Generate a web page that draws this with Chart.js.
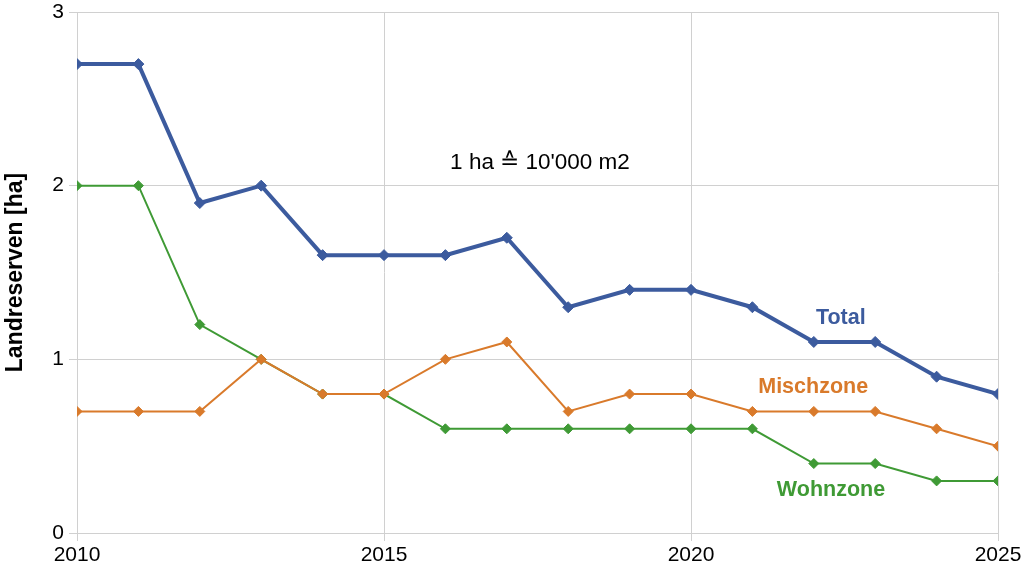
<!DOCTYPE html>
<html>
<head>
<meta charset="utf-8">
<script src="https://cdn.jsdelivr.net/npm/chart.js@4/dist/chart.umd.min.js"></script>
<style>
  html, body { margin: 0; padding: 0; background: #fff; }
  #wrap { width: 1024px; height: 569px; }
</style>
</head>
<body>
<div id="wrap"><canvas id="lineChart"></canvas></div>
<script>
// data
var years = [2010, 2011, 2012, 2013, 2014, 2015, 2016, 2017, 2018, 2019, 2020, 2021, 2022, 2023, 2024, 2025];
var total = [2.7, 2.7, 1.9, 2.0, 1.6, 1.6, 1.6, 1.7, 1.3, 1.4, 1.4, 1.3, 1.1, 1.1, 0.9, 0.8];
var mischzone = [0.7, 0.7, 0.7, 1.0, 0.8, 0.8, 1.0, 1.1, 0.7, 0.8, 0.8, 0.7, 0.7, 0.7, 0.6, 0.5];
var wohnzone = [2.0, 2.0, 1.2, 1.0, 0.8, 0.8, 0.6, 0.6, 0.6, 0.6, 0.6, 0.6, 0.4, 0.4, 0.3, 0.3];

function points(vals) {
  return years.map(function (y, i) { return { x: y, y: vals[i] }; });
}

var blue = '#3c5b9e', orange = '#d97a2b', green = '#3f9a35';
var font = 'Liberation Sans, Arial, sans-serif';

// text labels placed in data coordinates
var labelPlugin = {
  id: 'labels',
  afterDatasetsDraw: function (chart) {
    var c = chart.ctx, xs = chart.scales.x, ys = chart.scales.y;
    var items = [
      { text: 'Total', x: 2022.44, y: 1.24, color: blue, bold: true, size: 21.5 },
      { text: 'Mischzone', x: 2021.99, y: 0.84, color: orange, bold: true, size: 21.5 },
      { text: 'Wohnzone', x: 2022.28, y: 0.25, color: green, bold: true, size: 21.5 },
      { text: '1 ha \u2259 10\'000 m2', x: 2017.54, y: 2.13, color: '#000', bold: false, size: 22.5 }
    ];
    c.save();
    c.textAlign = 'center';
    c.textBaseline = 'middle';
    items.forEach(function (it) {
      c.font = (it.bold ? 'bold ' : '') + it.size + 'px ' + font;
      c.fillStyle = it.color;
      c.fillText(it.text, xs.getPixelForValue(it.x), ys.getPixelForValue(it.y));
    });
    c.restore();
  }
};

var ctx = document.getElementById('lineChart').getContext('2d');
var lineChart = new Chart(ctx, {
  type: 'line',
  data: {
    datasets: [{
      label: 'Total',
      data: points(total),
      borderColor: blue,
      backgroundColor: blue,
      borderWidth: 4,
      pointStyle: 'rectRot',
      pointRadius: 5.5,
      pointBorderWidth: 1
    }, {
      label: 'Mischzone',
      data: points(mischzone),
      borderColor: orange,
      backgroundColor: orange,
      borderWidth: 2,
      pointStyle: 'rectRot',
      pointRadius: 5,
      pointBorderWidth: 1
    }, {
      label: 'Wohnzone',
      data: points(wohnzone),
      borderColor: green,
      backgroundColor: green,
      borderWidth: 2,
      pointStyle: 'rectRot',
      pointRadius: 5,
      pointBorderWidth: 1
    }]
  },
  options: {
    responsive: true,
    maintainAspectRatio: false,
    animation: false,
    layout: { padding: { top: 12, right: 26, left: 0, bottom: 0 } },
    plugins: {
      legend: { display: false },
      tooltip: { enabled: false }
    },
    elements: { line: { tension: 0 } },
    scales: {
      x: {
        type: 'linear',
        min: 2010,
        max: 2025,
        ticks: {
          stepSize: 5,
          color: '#000',
          font: { family: font, size: 21 },
          padding: 2,
          callback: function (v) { return String(v); }
        },
        grid: { color: '#d0d0d0', tickLength: 8 },
        border: { color: '#d0d0d0' },
        afterFit: function (s) { s.height = 36; s.paddingLeft = 0; s.paddingRight = 0; }
      },
      y: {
        min: 0,
        max: 3,
        ticks: {
          stepSize: 1,
          color: '#000',
          font: { family: font, size: 21 },
          padding: 5
        },
        grid: { color: '#d0d0d0', tickLength: 8 },
        border: { color: '#d0d0d0' },
        title: {
          display: true,
          text: 'Landreserven [ha]',
          color: '#000',
          font: { family: font, size: 23, weight: 'bold' },
          padding: { top: 2, bottom: 0 }
        },
        afterFit: function (s) { s.width = 77; s.paddingTop = 0; s.paddingBottom = 0; }
      }
    }
  },
  plugins: [labelPlugin]
});
</script>
</body>
</html>
